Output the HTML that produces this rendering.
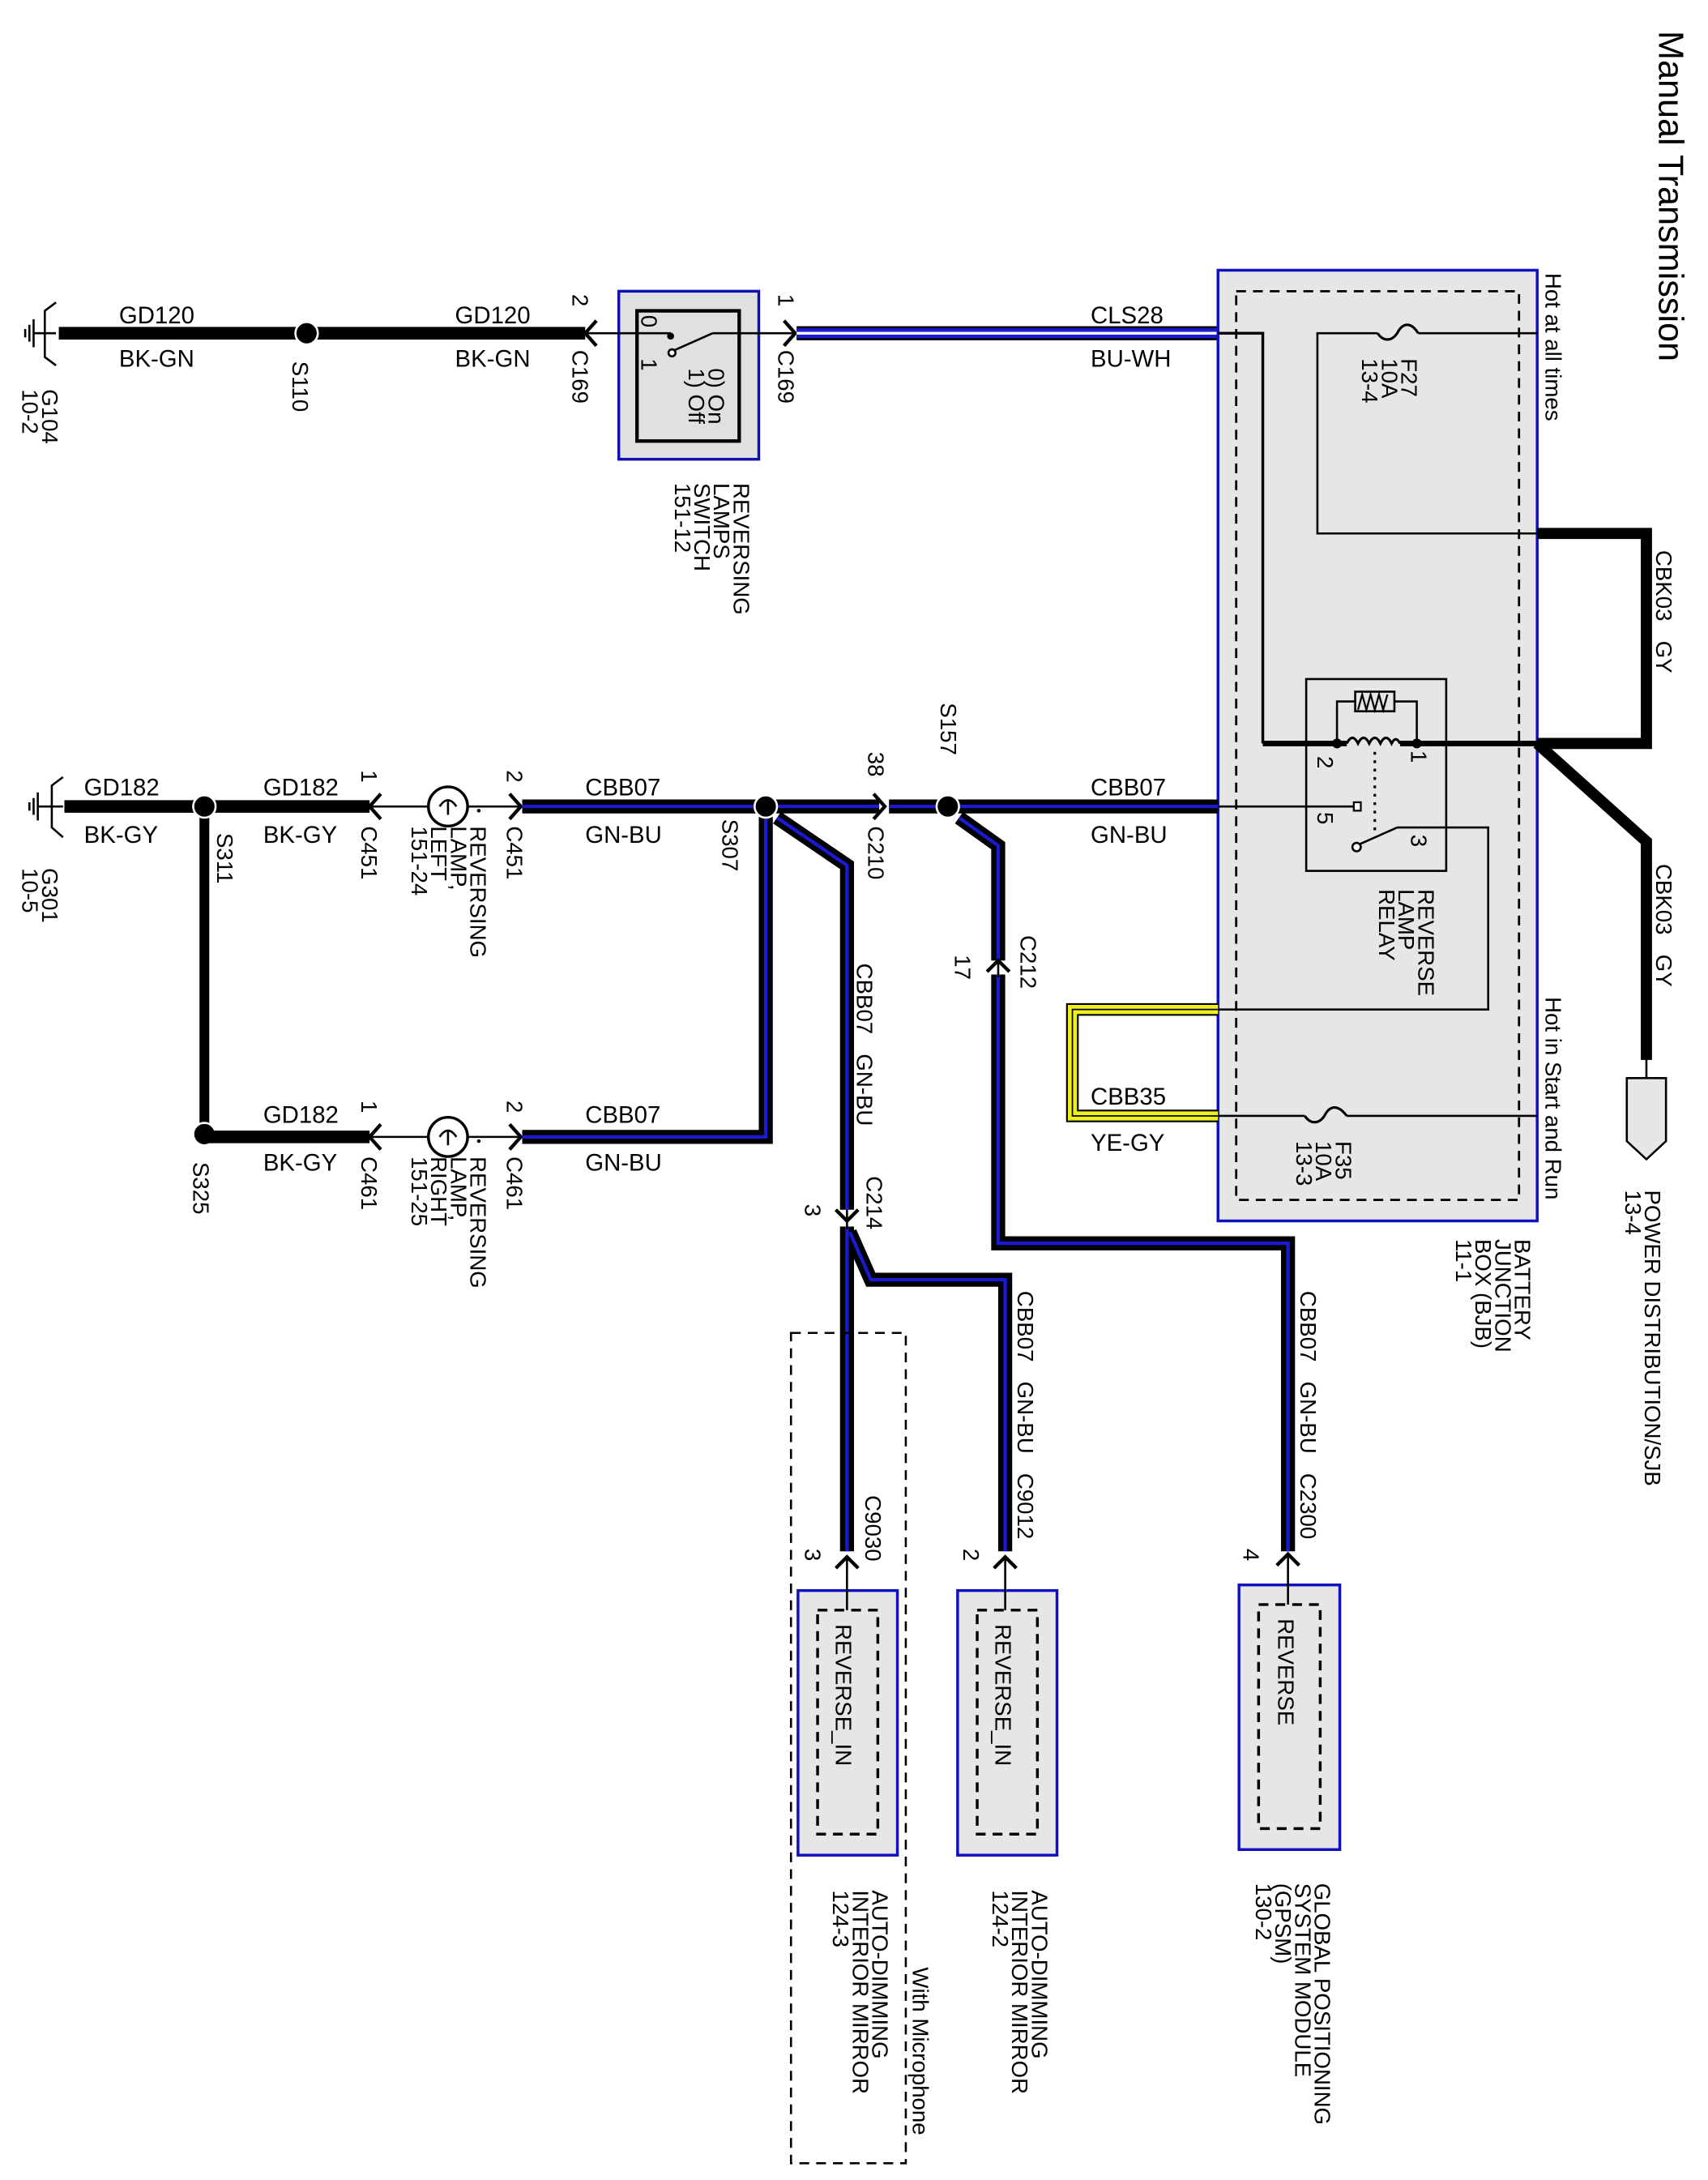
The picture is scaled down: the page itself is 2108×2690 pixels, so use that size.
<!DOCTYPE html>
<html><head><meta charset="utf-8"><style>
html,body{margin:0;padding:0;background:#fff;}
svg{display:block;}
text{font-family:"Liberation Sans",Arial,sans-serif;fill:#000;}
.w{font-size:17px;}
.r{font-size:16px;}
</style></head><body>
<svg width="2108" height="2690" viewBox="0 0 1220 1557" preserveAspectRatio="none" xmlns="http://www.w3.org/2000/svg">
<rect x="0" y="0" width="1220" height="1557" fill="#fff"/>

<!-- Title -->
<text transform="translate(1185,22) rotate(90)" style="font-size:25px">Manual Transmission</text>

<!-- ===== TOP ROW ===== -->
<path d="M40,216 L32,222 L32,255 L40,261" fill="none" stroke="#000" stroke-width="1.5"/>
<line x1="24" y1="238" x2="40" y2="238" stroke="#000" stroke-width="1.5"/>
<line x1="24" y1="228" x2="24" y2="248" stroke="#000" stroke-width="1.5"/>
<line x1="21" y1="232" x2="21" y2="244" stroke="#000" stroke-width="1.5"/>
<line x1="18" y1="235" x2="18" y2="241" stroke="#000" stroke-width="1.5"/>
<text class="r" transform="translate(30,278) rotate(90)">G104<tspan x="0" dy="14">10-2</tspan></text>

<line x1="42" y1="238" x2="418" y2="238" stroke="#000" stroke-width="9"/>
<circle cx="219" cy="238" r="8" fill="#000" stroke="#fff" stroke-width="1.5"/>
<text class="r" transform="translate(209,258) rotate(90)">S110</text>
<text class="w" x="85" y="231">GD120</text><text class="w" x="85" y="262">BK-GN</text>
<text class="w" x="325" y="231">GD120</text><text class="w" x="325" y="262">BK-GN</text>

<path d="M426,229 L418,238 L426,247" fill="none" stroke="#000" stroke-width="2.5"/>
<text class="r" transform="translate(409,210) rotate(90)">2</text>
<text class="r" transform="translate(409,250) rotate(90)">C169</text>

<rect x="442" y="208" width="100" height="120" fill="#e0e0e0" stroke="#1010b0" stroke-width="2"/>
<rect x="455" y="222" width="73" height="93" fill="none" stroke="#000" stroke-width="2.5"/>
<line x1="418" y1="238" x2="479" y2="238" stroke="#000" stroke-width="1.5"/>
<line x1="509" y1="238" x2="568" y2="238" stroke="#000" stroke-width="1.5"/>
<circle cx="479" cy="240" r="2.5" fill="#000"/>
<circle cx="480" cy="252" r="2.5" fill="#fff" stroke="#000" stroke-width="1.5"/>
<line x1="482" y1="250" x2="509" y2="238" stroke="#000" stroke-width="1.5"/>
<text class="r" transform="translate(458,225) rotate(90)">0</text>
<text class="r" transform="translate(458,256) rotate(90)">1</text>
<text class="r" transform="translate(506,263) rotate(90)">0) On<tspan x="0" dy="14">1) Off</tspan></text>
<text class="r" transform="translate(524,345) rotate(90)">REVERSING<tspan x="0" dy="14">LAMPS</tspan><tspan x="0" dy="14">SWITCH</tspan><tspan x="0" dy="14">151-12</tspan></text>

<path d="M560,229 L568,238 L560,247" fill="none" stroke="#000" stroke-width="2.5"/>
<text class="r" transform="translate(556,210) rotate(90)">1</text>
<text class="r" transform="translate(556,250) rotate(90)">C169</text>

<line x1="569" y1="238" x2="870" y2="238" stroke="#000" stroke-width="10"/>
<line x1="569" y1="238" x2="870" y2="238" stroke="#1a1ad0" stroke-width="7"/>
<line x1="569" y1="238" x2="870" y2="238" stroke="#fff" stroke-width="2"/>
<text class="w" x="779" y="231">CLS28</text><text class="w" x="779" y="262">BU-WH</text>

<!-- ===== BJB ===== -->
<rect x="870" y="193" width="228" height="679" fill="#e6e6e6" stroke="#1010c0" stroke-width="2"/>
<rect x="883" y="208" width="202" height="649" fill="none" stroke="#000" stroke-width="1.6" stroke-dasharray="7,5"/>
<polyline points="870,238 902,238 902,531" fill="none" stroke="#000" stroke-width="2"/>
<polyline points="1098,238 1013,238" fill="none" stroke="#000" stroke-width="1.5"/>
<polyline points="984,238 941,238 941,381 1098,381" fill="none" stroke="#000" stroke-width="1.5"/>
<path d="M984,238 C988,244 994,244 998,238 C1002,230 1008,230 1013,238" fill="none" stroke="#000" stroke-width="1.8"/>
<text class="r" transform="translate(1001,256) rotate(90)">F27<tspan x="0" dy="14">10A</tspan><tspan x="0" dy="14">13-4</tspan></text>
<text class="r" transform="translate(1104,195) rotate(90)">Hot at all times</text>

<polyline points="1098,381 1176,381 1176,531 1098,531" fill="none" stroke="#000" stroke-width="8"/>
<polyline points="1098,531 1176,601 1176,757" fill="none" stroke="#000" stroke-width="8"/>
<text class="r" transform="translate(1183,393) rotate(90)">CBK03<tspan dx="14">GY</tspan></text>
<text class="r" transform="translate(1183,617) rotate(90)">CBK03<tspan dx="14">GY</tspan></text>
<line x1="1176" y1="757" x2="1176" y2="770" stroke="#000" stroke-width="1.5"/>
<path d="M1162,770 L1190,770 L1190,815 L1176,828 L1162,815 Z" fill="#e6e6e6" stroke="#000" stroke-width="1.5"/>
<text class="r" transform="translate(1175,850) rotate(90)">POWER DISTRIBUTION/SJB<tspan x="0" dy="14">13-4</tspan></text>

<rect x="933" y="485" width="100" height="137" fill="none" stroke="#000" stroke-width="1.5"/>
<line x1="902" y1="531" x2="962" y2="531" stroke="#000" stroke-width="4"/>
<line x1="1000" y1="531" x2="1098" y2="531" stroke="#000" stroke-width="4"/>
<path d="M962,531 q4,-8 8,0 q4,-8 8,0 q4,-8 8,0 q4,-8 8,0 q3,-6 6,0" fill="none" stroke="#000" stroke-width="1.8"/>
<circle cx="955" cy="531" r="3.5" fill="#000"/><circle cx="1012" cy="531" r="3.5" fill="#000"/>
<polyline points="955,531 955,501 968,501" fill="none" stroke="#000" stroke-width="1.5"/>
<polyline points="996,501 1012,501 1012,531" fill="none" stroke="#000" stroke-width="1.5"/>
<rect x="968" y="494" width="28" height="14" fill="none" stroke="#000" stroke-width="1.5"/>
<path d="M970,507 l3,-11 l3,11 l3,-11 l3,11 l3,-11 l3,11 l3,-11" fill="none" stroke="#000" stroke-width="1.3"/>
<line x1="982" y1="537" x2="982" y2="594" stroke="#000" stroke-width="1.8" stroke-dasharray="2,4"/>
<text class="r" transform="translate(941,540) rotate(90)">2</text>
<text class="r" transform="translate(1008,536) rotate(90)">1</text>
<text class="r" transform="translate(941,580) rotate(90)">5</text>
<text class="r" transform="translate(1008,596) rotate(90)">3</text>
<line x1="870" y1="576" x2="967" y2="576" stroke="#000" stroke-width="1.5"/>
<rect x="967" y="573" width="5" height="6" fill="#fff" stroke="#000" stroke-width="1.3"/>
<circle cx="969" cy="605" r="3" fill="#fff" stroke="#000" stroke-width="1.5"/>
<line x1="971" y1="603" x2="998" y2="591" stroke="#000" stroke-width="1.5"/>
<polyline points="998,591 1063,591 1063,721 870,721" fill="none" stroke="#000" stroke-width="1.5"/>
<text class="r" transform="translate(1013,635) rotate(90)">REVERSE<tspan x="0" dy="14">LAMP</tspan><tspan x="0" dy="14">RELAY</tspan></text>
<text class="r" transform="translate(1104,712) rotate(90)">Hot in Start and Run</text>

<line x1="870" y1="797" x2="932" y2="797" stroke="#000" stroke-width="1.5"/>
<line x1="962" y1="797" x2="1098" y2="797" stroke="#000" stroke-width="1.5"/>
<path d="M932,797 C936,803 942,803 946,797 C950,789 956,789 962,797" fill="none" stroke="#000" stroke-width="1.8"/>
<text class="r" transform="translate(954,815) rotate(90)">F35<tspan x="0" dy="14">10A</tspan><tspan x="0" dy="14">13-3</tspan></text>
<text class="r" transform="translate(1082,885) rotate(90)">BATTERY<tspan x="0" dy="14">JUNCTION</tspan><tspan x="0" dy="14">BOX (BJB)</tspan><tspan x="0" dy="14">11-1</tspan></text>

<polyline points="870,721 766,721 766,797 870,797" fill="none" stroke="#000" stroke-width="9"/>
<polyline points="870,721 766,721 766,797 870,797" fill="none" stroke="#f0f020" stroke-width="6.5"/>
<polyline points="870,721 766,721 766,797 870,797" fill="none" stroke="#000" stroke-width="1"/>
<text class="w" x="779" y="789">CBB35</text><text class="w" x="779" y="822">YE-GY</text>

<!-- ===== MIDDLE ROW ===== -->
<path d="M45,555 L37,561 L37,591 L45,598" fill="none" stroke="#000" stroke-width="1.5"/>
<line x1="27" y1="576" x2="45" y2="576" stroke="#000" stroke-width="1.5"/>
<line x1="27" y1="566" x2="27" y2="586" stroke="#000" stroke-width="1.5"/>
<line x1="24" y1="570" x2="24" y2="582" stroke="#000" stroke-width="1.5"/>
<line x1="21" y1="573" x2="21" y2="579" stroke="#000" stroke-width="1.5"/>
<text class="r" transform="translate(30,620) rotate(90)">G301<tspan x="0" dy="14">10-5</tspan></text>

<line x1="46" y1="576" x2="264" y2="576" stroke="#000" stroke-width="9"/>
<line x1="146" y1="576" x2="146" y2="810" stroke="#000" stroke-width="7"/>
<circle cx="146" cy="576" r="8" fill="#000" stroke="#fff" stroke-width="1.5"/>
<circle cx="146" cy="810" r="8" fill="#000" stroke="#fff" stroke-width="1.5"/>
<text class="r" transform="translate(155,595) rotate(90)">S311</text>
<text class="r" transform="translate(138,830) rotate(90)">S325</text>
<text class="w" x="60" y="568">GD182</text><text class="w" x="60" y="602">BK-GY</text>
<text class="w" x="188" y="568">GD182</text><text class="w" x="188" y="602">BK-GY</text>

<path d="M272,567 L264,576 L272,585" fill="none" stroke="#000" stroke-width="2.5"/>
<text class="r" transform="translate(258,550) rotate(90)">1</text>
<text class="r" transform="translate(258,590) rotate(90)">C451</text>
<line x1="264" y1="576" x2="372" y2="576" stroke="#000" stroke-width="1.5"/>
<circle cx="320" cy="576" r="14" fill="#fff" stroke="#000" stroke-width="2"/>
<path d="M314,576 q6,-9 12,0 M320,572 v10" fill="none" stroke="#000" stroke-width="1.5"/>
<circle cx="342" cy="579" r="1.3" fill="#000"/>
<text class="r" transform="translate(336,590) rotate(90)">REVERSING<tspan x="0" dy="14">LAMP,</tspan><tspan x="0" dy="14">LEFT</tspan><tspan x="0" dy="14">151-24</tspan></text>
<path d="M364,567 L372,576 L364,585" fill="none" stroke="#000" stroke-width="2.5"/>
<text class="r" transform="translate(362,550) rotate(90)">2</text>
<text class="r" transform="translate(362,590) rotate(90)">C451</text>

<line x1="146" y1="812" x2="264" y2="812" stroke="#000" stroke-width="9"/>
<text class="w" x="188" y="802">GD182</text><text class="w" x="188" y="836">BK-GY</text>
<path d="M272,803 L264,812 L272,821" fill="none" stroke="#000" stroke-width="2.5"/>
<text class="r" transform="translate(258,786) rotate(90)">1</text>
<text class="r" transform="translate(258,826) rotate(90)">C461</text>
<line x1="264" y1="812" x2="372" y2="812" stroke="#000" stroke-width="1.5"/>
<circle cx="320" cy="812" r="14" fill="#fff" stroke="#000" stroke-width="2"/>
<path d="M314,812 q6,-9 12,0 M320,808 v10" fill="none" stroke="#000" stroke-width="1.5"/>
<circle cx="342" cy="815" r="1.3" fill="#000"/>
<text class="r" transform="translate(336,826) rotate(90)">REVERSING<tspan x="0" dy="14">LAMP,</tspan><tspan x="0" dy="14">RIGHT</tspan><tspan x="0" dy="14">151-25</tspan></text>
<path d="M364,803 L372,812 L364,821" fill="none" stroke="#000" stroke-width="2.5"/>
<text class="r" transform="translate(362,786) rotate(90)">2</text>
<text class="r" transform="translate(362,826) rotate(90)">C461</text>

<g fill="none" stroke-linejoin="miter">
 <g stroke="#000" stroke-width="10">
  <polyline points="373,576 628,576"/>
  <polyline points="373,812 547,812 547,576"/>
  <polyline points="635,576 870,576"/>
  <polyline points="555,584 605,618 605,864"/>
  <polyline points="685,584 713,604 713,686"/>
  <polyline points="713,696 713,888 920,888 920,1108"/>
  <polyline points="605,876 605,1108"/>
  <polyline points="607,880 622,914 718,914 718,1108"/>
 </g>
 <g stroke="#1a1ad0" stroke-width="2.5">
  <polyline points="373,576 628,576"/>
  <polyline points="373,812 547,812 547,576"/>
  <polyline points="635,576 870,576"/>
  <polyline points="555,584 605,618 605,864"/>
  <polyline points="685,584 713,604 713,686"/>
  <polyline points="713,696 713,888 920,888 920,1108"/>
  <polyline points="605,876 605,1108"/>
  <polyline points="607,880 622,914 718,914 718,1108"/>
 </g>
</g>
<text class="w" x="418" y="568">CBB07</text><text class="w" x="418" y="602">GN-BU</text>
<text class="w" x="418" y="802">CBB07</text><text class="w" x="418" y="836">GN-BU</text>
<text class="w" x="779" y="568">CBB07</text><text class="w" x="779" y="602">GN-BU</text>
<circle cx="547" cy="576" r="8" fill="#000" stroke="#fff" stroke-width="1.5"/>
<text class="r" transform="translate(516,585) rotate(90)">S307</text>
<path d="M624,567 L632,576 L624,585" fill="none" stroke="#000" stroke-width="2.5"/>
<text class="r" transform="translate(620,537) rotate(90)">38</text>
<text class="r" transform="translate(620,590) rotate(90)">C210</text>
<circle cx="677" cy="576" r="8" fill="#000" stroke="#fff" stroke-width="1.5"/>
<text class="r" transform="translate(672,502) rotate(90)">S157</text>
<path d="M705,694 L713,686 L721,694" fill="none" stroke="#000" stroke-width="2.5"/>
<line x1="713" y1="686" x2="713" y2="698" stroke="#000" stroke-width="1.5"/>
<text class="r" transform="translate(682,682) rotate(90)">17</text>
<text class="r" transform="translate(729,668) rotate(90)">C212</text>
<text class="r" transform="translate(612,688) rotate(90)">CBB07<tspan dx="14">GN-BU</tspan></text>
<path d="M597,864 L605,872 L613,864" fill="none" stroke="#000" stroke-width="2.5"/>
<line x1="605" y1="864" x2="605" y2="878" stroke="#000" stroke-width="1.5"/>
<text class="r" transform="translate(575,860) rotate(90)">3</text>
<text class="r" transform="translate(619,840) rotate(90)">C214</text>

<text class="r" transform="translate(727,922) rotate(90)">CBB07<tspan dx="14">GN-BU</tspan><tspan dx="14">C9012</tspan></text>
<text class="r" transform="translate(929,922) rotate(90)">CBB07<tspan dx="14">GN-BU</tspan><tspan dx="14">C2300</tspan></text>
<text class="r" transform="translate(618,1068) rotate(90)">C9030</text>
<text class="r" transform="translate(575,1106) rotate(90)">3</text>
<text class="r" transform="translate(688,1106) rotate(90)">2</text>
<text class="r" transform="translate(888,1106) rotate(90)">4</text>

<g fill="none" stroke="#000" stroke-width="2.5">
 <path d="M597,1120 L605,1112 L613,1120"/>
 <path d="M710,1120 L718,1112 L726,1120"/>
 <path d="M912,1118 L920,1110 L928,1118"/>
</g>

<rect x="565" y="952" width="82" height="593" fill="none" stroke="#000" stroke-width="1.5" stroke-dasharray="7,5"/>

<rect x="570" y="1136" width="71" height="189" fill="#e6e6e6" stroke="#1010c0" stroke-width="2"/>
<rect x="584" y="1150" width="43" height="160" fill="none" stroke="#000" stroke-width="2" stroke-dasharray="7,5"/>
<line x1="605" y1="1112" x2="605" y2="1150" stroke="#000" stroke-width="1.5"/>
<text class="r" transform="translate(597,1160) rotate(90)">REVERSE_IN</text>

<rect x="684" y="1136" width="71" height="189" fill="#e6e6e6" stroke="#1010c0" stroke-width="2"/>
<rect x="698" y="1150" width="43" height="160" fill="none" stroke="#000" stroke-width="2" stroke-dasharray="7,5"/>
<line x1="718" y1="1112" x2="718" y2="1150" stroke="#000" stroke-width="1.5"/>
<text class="r" transform="translate(711,1160) rotate(90)">REVERSE_IN</text>

<rect x="885" y="1132" width="72" height="189" fill="#e6e6e6" stroke="#1010c0" stroke-width="2"/>
<rect x="899" y="1146" width="44" height="160" fill="none" stroke="#000" stroke-width="2" stroke-dasharray="7,5"/>
<line x1="920" y1="1110" x2="920" y2="1146" stroke="#000" stroke-width="1.5"/>
<text class="r" transform="translate(913,1156) rotate(90)">REVERSE</text>

<text class="r" transform="translate(652,1405) rotate(90)">With Microphone</text>
<text class="r" transform="translate(623,1350) rotate(90)">AUTO-DIMMING<tspan x="0" dy="14">INTERIOR MIRROR</tspan><tspan x="0" dy="14">124-3</tspan></text>
<text class="r" transform="translate(737,1350) rotate(90)">AUTO-DIMMING<tspan x="0" dy="14">INTERIOR MIRROR</tspan><tspan x="0" dy="14">124-2</tspan></text>
<text class="r" transform="translate(939,1345) rotate(90)">GLOBAL POSITIONING<tspan x="0" dy="14">SYSTEM MODULE</tspan><tspan x="0" dy="14">(GPSM)</tspan><tspan x="0" dy="14">130-2</tspan></text>
</svg>
</body></html>
